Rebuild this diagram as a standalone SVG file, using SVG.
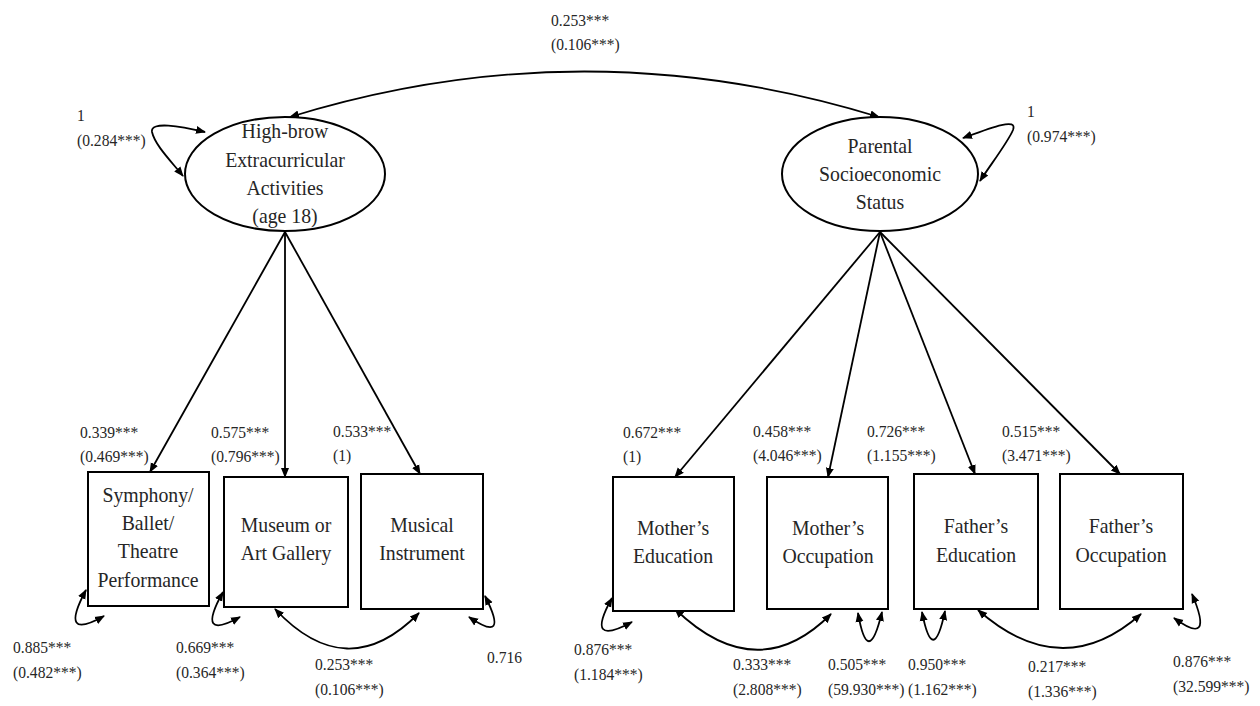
<svg xmlns="http://www.w3.org/2000/svg" width="1260" height="706" viewBox="0 0 1260 706">
<style>
.nd{fill:#fff;stroke:#000;stroke-width:2}
.nt{font-family:"Liberation Serif","Times New Roman",serif;font-size:22px;fill:#262626;text-anchor:middle}
.lb{font-family:"Liberation Serif","Times New Roman",serif;font-size:17.5px;fill:#262626}
.cn{fill:none;stroke:#000;stroke-width:1.8}
.ar{marker-end:url(#ah)}
.bi{marker-start:url(#ah);marker-end:url(#ah)}
</style>
<defs>
<marker id="ah" viewBox="0 0 10 10" refX="9" refY="5" markerWidth="10" markerHeight="10" orient="auto-start-reverse" markerUnits="userSpaceOnUse">
<path d="M0,1 L10,5 L0,9 z" fill="#000"/>
</marker>
</defs>
<rect width="1260" height="706" fill="#fff"/>
<g id="connectors">
<path class="cn bi" d="M290,117 Q584,26 879,117"/>
<path class="cn bi" d="M205,132 C180,126 150,121 152,132 C155,145 170,160 183,176"/>
<path class="cn bi" d="M963,138 C990,128 1018,117 1013,130 C1008,142 991,164 980,181"/>
<line class="cn ar" x1="285" y1="232" x2="150" y2="472"/>
<line class="cn ar" x1="285" y1="232" x2="285" y2="477"/>
<line class="cn ar" x1="285" y1="232" x2="420" y2="474"/>
<line class="cn ar" x1="880" y1="232" x2="675" y2="477"/>
<line class="cn ar" x1="880" y1="232" x2="828" y2="477"/>
<line class="cn ar" x1="880" y1="232" x2="975" y2="474"/>
<line class="cn ar" x1="880" y1="232" x2="1120" y2="474"/>
<path class="cn bi" d="M86,590 Q58,642 104,616"/>
<path class="cn bi" d="M223,592 Q195,642 240,617"/>
<path class="cn bi" d="M485,596 Q510,645 469,617"/>
<path class="cn bi" d="M275,609 Q347,686 419,613"/>
<path class="cn bi" d="M612,598 Q584,648 632,622"/>
<path class="cn bi" d="M675,609 Q757,688 831,614"/>
<path class="cn bi" d="M858,613 Q868,670 882,612"/>
<path class="cn bi" d="M922,612 Q933,668 945,611"/>
<path class="cn bi" d="M978,610 Q1062,684 1141,614"/>
<path class="cn bi" d="M1192,594 Q1215,648 1174,618"/>
</g>
<g id="n-highbrow">
<ellipse class="nd" cx="285" cy="174" rx="100" ry="57"/>
<text class="nt" transform="translate(285 138) scale(.9 1)">High-brow</text>
<text class="nt" transform="translate(285 167) scale(.9 1)">Extracurricular</text>
<text class="nt" transform="translate(285 195) scale(.9 1)">Activities</text>
<text class="nt" transform="translate(285 223) scale(.9 1)">(age 18)</text>
</g>
<g id="n-ses">
<ellipse class="nd" cx="880" cy="174" rx="98" ry="57"/>
<text class="nt" transform="translate(880 153) scale(.9 1)">Parental</text>
<text class="nt" transform="translate(880 181) scale(.9 1)">Socioeconomic</text>
<text class="nt" transform="translate(880 209) scale(.9 1)">Status</text>
</g>
<g id="n-symphony">
<rect class="nd" x="88" y="472" width="121" height="134"/>
<text class="nt" transform="translate(148 502) scale(.9 1)">Symphony/</text>
<text class="nt" transform="translate(148 530) scale(.9 1)">Ballet/</text>
<text class="nt" transform="translate(148 558) scale(.9 1)">Theatre</text>
<text class="nt" transform="translate(148 587) scale(.9 1)">Performance</text>
</g>
<g id="n-museum">
<rect class="nd" x="224" y="477" width="124" height="130"/>
<text class="nt" transform="translate(286 532) scale(.9 1)">Museum or</text>
<text class="nt" transform="translate(286 560) scale(.9 1)">Art Gallery</text>
</g>
<g id="n-musical">
<rect class="nd" x="361" y="474" width="122" height="135"/>
<text class="nt" transform="translate(422 532) scale(.9 1)">Musical</text>
<text class="nt" transform="translate(422 560) scale(.9 1)">Instrument</text>
</g>
<g id="n-moed">
<rect class="nd" x="613" y="477" width="121" height="134"/>
<text class="nt" transform="translate(673 535) scale(.9 1)">Mother’s</text>
<text class="nt" transform="translate(673 563) scale(.9 1)">Education</text>
</g>
<g id="n-mooc">
<rect class="nd" x="767" y="477" width="121" height="132"/>
<text class="nt" transform="translate(828 535) scale(.9 1)">Mother’s</text>
<text class="nt" transform="translate(828 563) scale(.9 1)">Occupation</text>
</g>
<g id="n-faed">
<rect class="nd" x="914" y="474" width="124" height="135"/>
<text class="nt" transform="translate(976 533) scale(.9 1)">Father’s</text>
<text class="nt" transform="translate(976 562) scale(.9 1)">Education</text>
</g>
<g id="n-faoc">
<rect class="nd" x="1060" y="474" width="123" height="135"/>
<text class="nt" transform="translate(1121 533) scale(.9 1)">Father’s</text>
<text class="nt" transform="translate(1121 562) scale(.9 1)">Occupation</text>
</g>
<g id="labels">
<text class="lb" transform="translate(551 26) scale(.89 1)">0.253***</text>
<text class="lb" transform="translate(551 50) scale(.89 1)">(0.106***)</text>
<text class="lb" transform="translate(77 121) scale(.89 1)">1</text>
<text class="lb" transform="translate(77 146) scale(.89 1)">(0.284***)</text>
<text class="lb" transform="translate(1027 117) scale(.89 1)">1</text>
<text class="lb" transform="translate(1027 142) scale(.89 1)">(0.974***)</text>
<text class="lb" transform="translate(80 438) scale(.89 1)">0.339***</text>
<text class="lb" transform="translate(80 462) scale(.89 1)">(0.469***)</text>
<text class="lb" transform="translate(211 438) scale(.89 1)">0.575***</text>
<text class="lb" transform="translate(211 462) scale(.89 1)">(0.796***)</text>
<text class="lb" transform="translate(333 437) scale(.89 1)">0.533***</text>
<text class="lb" transform="translate(333 461) scale(.89 1)">(1)</text>
<text class="lb" transform="translate(623 438) scale(.89 1)">0.672***</text>
<text class="lb" transform="translate(623 462) scale(.89 1)">(1)</text>
<text class="lb" transform="translate(753 437) scale(.89 1)">0.458***</text>
<text class="lb" transform="translate(753 461) scale(.89 1)">(4.046***)</text>
<text class="lb" transform="translate(867 437) scale(.89 1)">0.726***</text>
<text class="lb" transform="translate(867 461) scale(.89 1)">(1.155***)</text>
<text class="lb" transform="translate(1002 437) scale(.89 1)">0.515***</text>
<text class="lb" transform="translate(1002 461) scale(.89 1)">(3.471***)</text>
<text class="lb" transform="translate(13 653) scale(.89 1)">0.885***</text>
<text class="lb" transform="translate(13 678) scale(.89 1)">(0.482***)</text>
<text class="lb" transform="translate(176 653) scale(.89 1)">0.669***</text>
<text class="lb" transform="translate(176 678) scale(.89 1)">(0.364***)</text>
<text class="lb" transform="translate(487 663) scale(.89 1)">0.716</text>
<text class="lb" transform="translate(315 670) scale(.89 1)">0.253***</text>
<text class="lb" transform="translate(315 695) scale(.89 1)">(0.106***)</text>
<text class="lb" transform="translate(574 655) scale(.89 1)">0.876***</text>
<text class="lb" transform="translate(574 680) scale(.89 1)">(1.184***)</text>
<text class="lb" transform="translate(733 670) scale(.89 1)">0.333***</text>
<text class="lb" transform="translate(733 695) scale(.89 1)">(2.808***)</text>
<text class="lb" transform="translate(828 670) scale(.89 1)">0.505***</text>
<text class="lb" transform="translate(828 695) scale(.89 1)">(59.930***)</text>
<text class="lb" transform="translate(908 670) scale(.89 1)">0.950***</text>
<text class="lb" transform="translate(908 695) scale(.89 1)">(1.162***)</text>
<text class="lb" transform="translate(1028 672) scale(.89 1)">0.217***</text>
<text class="lb" transform="translate(1028 697) scale(.89 1)">(1.336***)</text>
<text class="lb" transform="translate(1173 667) scale(.89 1)">0.876***</text>
<text class="lb" transform="translate(1173 692) scale(.89 1)">(32.599***)</text>
</g>
</svg>
